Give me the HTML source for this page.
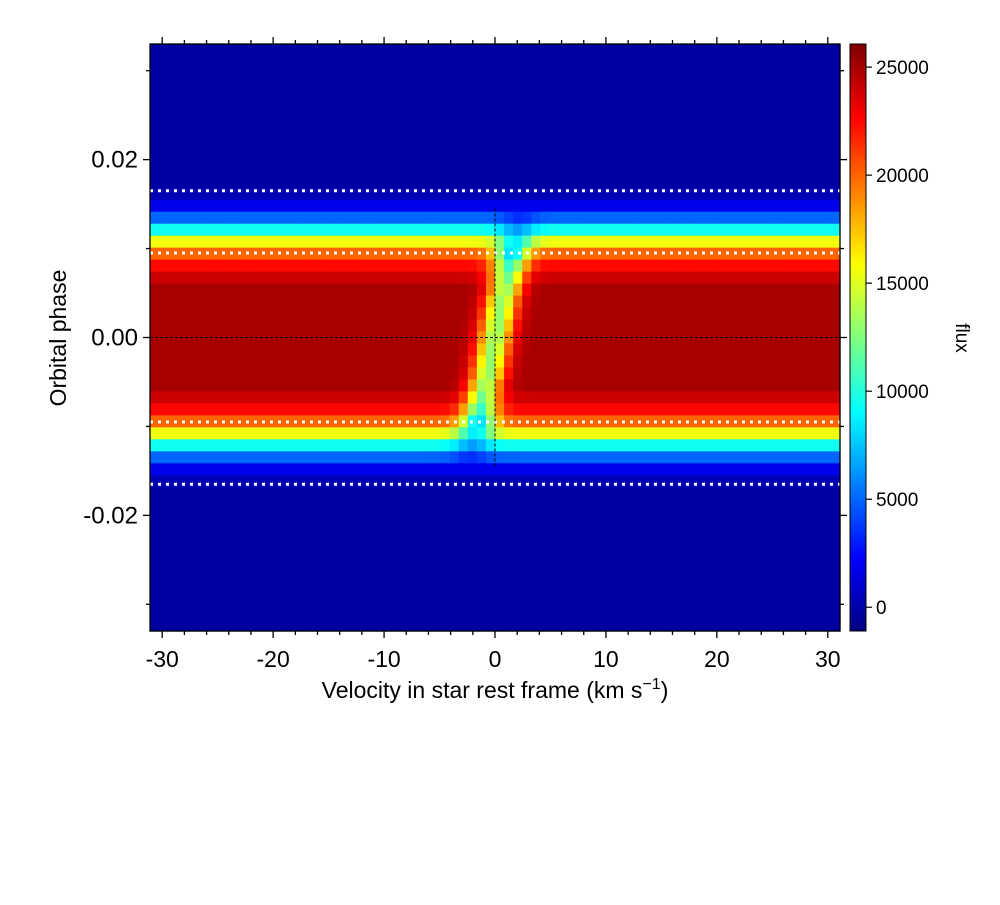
<!DOCTYPE html>
<html><head><meta charset="utf-8"><style>
body{margin:0;background:#fff;}
svg text{font-family:"Liberation Sans",sans-serif;fill:#000;}
</style></head><body>
<svg id="c" width="1000" height="900" xmlns="http://www.w3.org/2000/svg">
<g id="cells"></g>
<g id="over"></g>
<rect x="150" y="44" width="690" height="587" fill="none" stroke="#000" stroke-width="1.3"/>
<g id="ticks"></g>
<text x="495" y="698" font-size="23" text-anchor="middle">Velocity in star rest frame (km s<tspan dy="-9" font-size="16">−1</tspan><tspan dy="9">)</tspan></text>
<text transform="translate(66,338) rotate(-90)" font-size="23" text-anchor="middle">Orbital phase</text>
<g id="cbar"></g>
<text transform="translate(956,338) rotate(90)" font-size="19" text-anchor="middle">flux</text>
</svg>
<script>
const NS="http://www.w3.org/2000/svg";
const rowFlux=[-200,-200,-200,-200,-200,-200,-200,-200,-200,-200,-200,-200,300,1800,5000,9500,15500,20000,22500,24000,25000,25000,25000,25000,25000,25000,25000,25000,25000,24000,22500,20000,15500,9500,5000,1800,300,-200,-200,-200,-200,-200,-200,-200,-200,-200,-200,-200,-200];
const shadowDepth=[0,0,0,0,0,0,0,0,0,0,0,0,0,0,1500,3000,7000,12000,12000,12000,12000,12000,12000,12000,12000,12000,12000,12000,12000,12000,12000,12000,7000,3000,1500,0,0,0,0,0,0,0,0,0,0,0,0,0,0];
const shadowCenter=[0,0,0,0,0,0,0,0,0,0,0,0,0,0,2.2,2.0,1.8,1.5,1.3,1.1,0.9,0.6,0.4,0.2,0.0,-0.2,-0.4,-0.6,-0.9,-1.1,-1.3,-1.5,-1.8,-2.0,-2.2,0,0,0,0,0,0,0,0,0,0,0,0,0,0];
const xTicks=[-30,-20,-10,0,10,20,30];
const yTicks=[0.02,0.00,-0.02];
const yTickLabels=["0.02","0.00","-0.02"];
const cTicks=[0,5000,10000,15000,20000,25000];
const dottedPhases=[0.0165,0.0095,-0.0095,-0.0165];
const NCOL=76, NROW=rowFlux.length;
const VMIN=-31.1,VMAX=31.1,PMIN=-0.033,PMAX=0.033,FMIN=-1100,FMAX=26070;
const X0=150,X1=840,Y0=44,Y1=631;
const xs=v=>X0+(v-VMIN)/(VMAX-VMIN)*(X1-X0);
const ys=p=>Y0+(PMAX-p)/(PMAX-PMIN)*(Y1-Y0);
const cs=f=>Y1-(f-FMIN)/(FMAX-FMIN)*(Y1-Y0);
function jet(t){t=Math.max(0,Math.min(1,t));
 const r=Math.max(0,Math.min(1,1.5-Math.abs(4*t-3))),g=Math.max(0,Math.min(1,1.5-Math.abs(4*t-2))),b=Math.max(0,Math.min(1,1.5-Math.abs(4*t-1)));
 return `rgb(${Math.round(r*255)},${Math.round(g*255)},${Math.round(b*255)})`;}
const col=f=>jet((f-FMIN)/(FMAX-FMIN));
function mk(tag,attrs,parent){const e=document.createElementNS(NS,tag);for(const k in attrs)e.setAttribute(k,attrs[k]);parent.appendChild(e);return e;}
const cells=document.getElementById('cells');
const dv=(VMAX-VMIN)/NCOL, dp=(PMAX-PMIN)/NROW;
for(let k=0;k<NROW;k++){
 for(let i=0;i<NCOL;i++){
  const v=VMIN+(i+0.5)*dv;
  const f=rowFlux[k]-shadowDepth[k]*Math.exp(-Math.pow((v-shadowCenter[k])/1.5,2));
  const x=xs(VMIN+i*dv), y=ys(PMAX-k*dp);
  const r=mk('rect',{x:x.toFixed(2),y:y.toFixed(2),width:(dv/(VMAX-VMIN)*(X1-X0)+0.6).toFixed(2),height:(dp/(PMAX-PMIN)*(Y1-Y0)+0.6).toFixed(2),fill:col(f)},cells);
  
  
 }
}
const over=document.getElementById('over');
for(const p of dottedPhases){
 const l=mk('line',{x1:X0,x2:X1,y1:ys(p),y2:ys(p),stroke:'#fff','stroke-width':3,'stroke-dasharray':'3 5'},over);
 
 
}
let l=mk('line',{x1:X0,x2:X1,y1:ys(0),y2:ys(0),stroke:'#000','stroke-width':1,'stroke-dasharray':'3 2'},over);


l=mk('line',{x1:xs(0),x2:xs(0),y1:ys(0.0145),y2:ys(-0.0145),stroke:'#000','stroke-width':1,'stroke-dasharray':'3 2'},over);


const tk=document.getElementById('ticks');
for(let v=-30;v<=30;v+=2){
 const major=v%10===0, len=major?7:4, x=xs(v);
 mk('line',{x1:x,x2:x,y1:Y1,y2:Y1+len,stroke:'#000','stroke-width':1.3},tk);
 mk('line',{x1:x,x2:x,y1:Y0,y2:Y0-len,stroke:'#000','stroke-width':1.3},tk);
}
xTicks.forEach(v=>{const t=mk('text',{x:xs(v),y:667,'font-size':23,'text-anchor':'middle'},tk);t.textContent=v;
 });
for(let j=-3;j<=3;j++){
 const p=j*0.01, major=j%2===0, len=major?7:4, y=ys(p);
 mk('line',{x1:X0,x2:X0-len,y1:y,y2:y,stroke:'#000','stroke-width':1.3},tk);
 mk('line',{x1:X1,x2:X1+len,y1:y,y2:y,stroke:'#000','stroke-width':1.3},tk);
}
yTicks.forEach((p,i)=>{const t=mk('text',{x:138,y:ys(p)+8,'font-size':24,'text-anchor':'end'},tk);t.textContent=yTickLabels[i];
 });
const cb=document.getElementById('cbar');
const N=200;
for(let i=0;i<N;i++){const f0=FMIN+i*(FMAX-FMIN)/N,f1=FMIN+(i+1)*(FMAX-FMIN)/N;
 mk('rect',{x:850,y:cs(f1),width:16,height:cs(f0)-cs(f1)+0.5,fill:col((f0+f1)/2)},cb);}
mk('rect',{x:850,y:Y0,width:16,height:Y1-Y0,fill:'none',stroke:'#000','stroke-width':1},cb);
cTicks.forEach(f=>{mk('line',{x1:866,x2:872,y1:cs(f),y2:cs(f),stroke:'#000','stroke-width':1.2},cb);
 const t=mk('text',{x:876,y:cs(f)+7,'font-size':19},cb);t.textContent=f;
 });
</script>
</body></html>
